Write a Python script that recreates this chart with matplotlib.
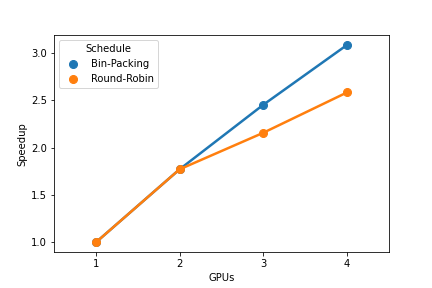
import numpy as np
import matplotlib
matplotlib.use("Agg")
import matplotlib.pyplot as plt

# speedup vs number of GPUs, per scheduling strategy
gpus = ["1", "2", "3", "4"]
bin_packing = [1.00, 1.77, 2.45, 3.08]
round_robin = [1.00, 1.77, 2.155, 2.58]

fig = plt.figure(figsize=(6, 4), dpi=72)
ax = fig.add_axes([0.125, 0.124, 0.775, 0.754])
x = np.arange(len(gpus))

for vals, name, color in [(bin_packing, "Bin-Packing", "#1f77b4"),
                          (round_robin, "Round-Robin", "#ff7f0e")]:
    ax.plot(x, vals, color=color, lw=2.5, marker="o", markersize=8,
            label=name)

ax.set_xticks(x)
ax.set_xticklabels(gpus)
ax.set_xlim(-0.5, len(gpus) - 0.5)
ax.set_xlabel("GPUs")
ax.set_ylabel("Speedup")

handles = [plt.Line2D([], [], ls="", marker="o", markersize=8, color=c)
           for c in ["#1f77b4", "#ff7f0e"]]
ax.legend(handles, ["Bin-Packing", "Round-Robin"], title="Schedule",
          loc="upper left")

fig.savefig("out.png", dpi=72)
